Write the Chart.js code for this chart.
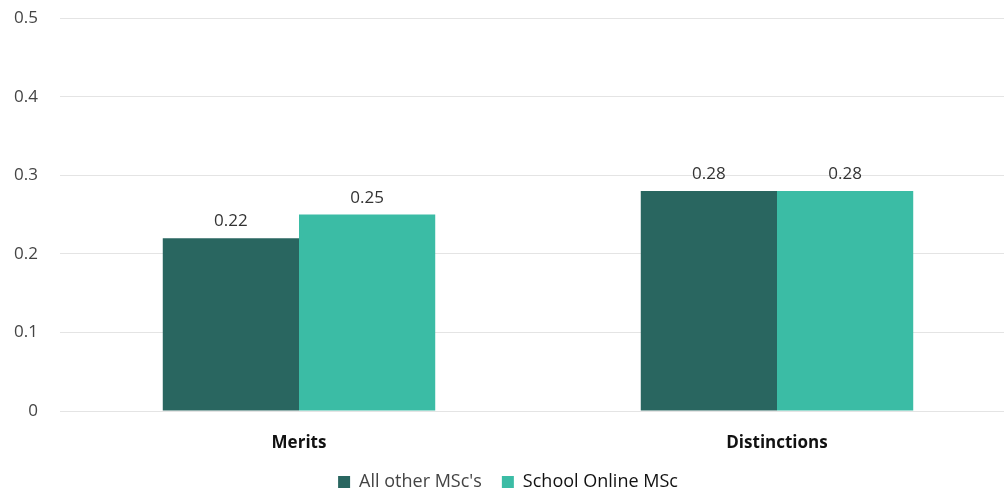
<!DOCTYPE html>
<html>
<head>
<meta charset="utf-8">
<script src="https://cdn.jsdelivr.net/npm/chart.js@4.4.1/dist/chart.umd.min.js"></script>
<style>
  html, body { margin: 0; padding: 0; background: #fff; overflow: hidden; }
  #wrap { position: relative; width: 1016px; height: 515px; margin-top: -14px; }
</style>
</head>
<body>
<div id="wrap"><canvas id="chart"></canvas></div>
<script>
// chart data
const categories = ['Merits', 'Distinctions'];
const seriesNames = ["All other MSc's", 'School Online MSc'];
const otherMsc = [0.22, 0.28];
const onlineMsc = [0.25, 0.28];
const yTicks = [0, 0.1, 0.2, 0.3, 0.4, 0.5];

const FONT = "'Open Sans', sans-serif";

// draws the value on top of each bar
const valueLabels = {
    id: 'valueLabels',
    afterDatasetsDraw(chart) {
        const ctx = chart.ctx;
        ctx.save();
        ctx.font = '17px ' + FONT;
        ctx.fillStyle = '#333';
        ctx.textAlign = 'center';
        ctx.textBaseline = 'alphabetic';
        chart.data.datasets.forEach((ds, i) => {
            chart.getDatasetMeta(i).data.forEach((bar, j) => {
                ctx.fillText(ds.data[j].toFixed(2), bar.x, bar.y - 12);
            });
        });
        ctx.restore();
    }
};

const ctx = document.getElementById('chart').getContext('2d');
new Chart(ctx, {
    type: 'bar',
    data: {
        labels: categories,
        datasets: [{
            label: seriesNames[0],
            data: otherMsc,
            backgroundColor: '#296660',
            categoryPercentage: 0.57,
            barPercentage: 1
        }, {
            label: seriesNames[1],
            data: onlineMsc,
            backgroundColor: '#3bbca5',
            categoryPercentage: 0.57,
            barPercentage: 1
        }]
    },
    options: {
        responsive: true,
        maintainAspectRatio: false,
        animation: false,
        layout: { padding: 0 },
        plugins: {
            legend: {
                position: 'bottom',
                labels: {
                    boxWidth: 12,
                    boxHeight: 12,
                    padding: 20,
                    font: { family: FONT, size: 18 },
                    color: '#222',
                    generateLabels(chart) {
                        const items = Chart.defaults.plugins.legend.labels.generateLabels(chart);
                        items[0].fontColor = '#444';
                        items[1].fontColor = '#111';
                        return items;
                    }
                }
            },
            tooltip: { enabled: false }
        },
        scales: {
            x: {
                afterFit(scale) { scale.height = 42; },
                grid: { display: false, drawTicks: false },
                border: { display: false },
                ticks: {
                    color: '#111',
                    padding: 22,
                    font: { family: FONT, size: 17, weight: 'bold' }
                }
            },
            y: {
                min: 0,
                max: 0.5,
                afterFit(scale) { scale.width = 60; },
                afterBuildTicks(scale) { scale.ticks = yTicks.map(v => ({ value: v })); },
                grid: { color: '#e4e4e4', drawTicks: false },
                border: { display: false },
                ticks: {
                    color: '#444',
                    padding: 22,
                    font: { family: FONT, size: 17 },
                    callback: v => String(v)
                }
            }
        }
    },
    plugins: [valueLabels]
});
</script>
</body>
</html>
